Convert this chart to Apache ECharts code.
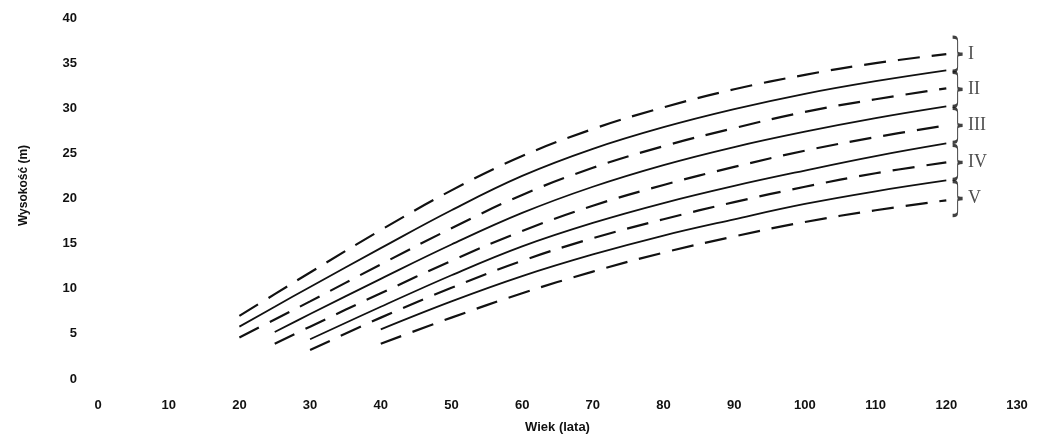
<!DOCTYPE html>
<html>
<head>
<meta charset="utf-8">
<title>Wysokość - wiek</title>
<script src="https://cdn.jsdelivr.net/npm/echarts@6/dist/echarts.min.js"></script>
<style>
    html, body { margin: 0; padding: 0; background: #fff; }
    #chart { width: 1038px; height: 441px; }
</style>
</head>
<body>
<div id="chart"></div>
<script>
// wiek (lata) - wspólne punkty dla wszystkich krzywych
var ages = [20, 25, 30, 40, 50, 60, 70, 80, 90, 100, 110, 120];
// wysokość (m), null = krzywa jeszcze się nie zaczęła
var line1 = [7.0, 9.4, 11.8, 16.5, 20.9, 24.7, 27.7, 30.1, 32.1, 33.7, 35.0, 36.0];
var line2 = [5.8, 8.0, 10.2, 14.5, 18.7, 22.5, 25.5, 27.9, 29.9, 31.6, 33.0, 34.2];
var line3 = [4.6, 6.6, 8.6, 12.7, 16.7, 20.4, 23.4, 25.8, 27.8, 29.6, 31.0, 32.2];
var line4 = [null, 5.2, 7.2, 11.1, 14.9, 18.4, 21.3, 23.7, 25.7, 27.4, 28.9, 30.2];
var line5 = [null, 3.9, 5.8, 9.5, 13.1, 16.4, 19.2, 21.5, 23.5, 25.3, 26.8, 28.1];
var line6 = [null, null, 4.4, 8.0, 11.5, 14.7, 17.3, 19.5, 21.4, 23.1, 24.7, 26.1];
var line7 = [null, null, 3.2, 6.8, 10.1, 13.1, 15.6, 17.7, 19.6, 21.3, 22.8, 24.0];
var line8 = [null, null, null, 5.5, 8.6, 11.4, 13.8, 15.9, 17.7, 19.4, 20.8, 22.0];
var line9 = [null, null, null, 3.9, 6.8, 9.5, 11.9, 14.0, 15.8, 17.4, 18.7, 19.8];
// klasy bonitacji (klamry po prawej)
var classNames = ["I", "II", "III", "IV", "V"];
var classCenters = [36.0, 32.1, 28.1, 24.0, 20.0];
var classAge = 121.6;

var chartPage = {
    init : function() {
        chartPage.funcs.render();
    }
    ,funcs : {
        toPairs : function(values) {
            var out = [];
            for (var i = 0; i < ages.length; i++) {
                if (values[i] !== null) out.push([ages[i], values[i]]);
            }
            return out;
        }
        ,curve : function(values, dashed) {
            return {
                type : 'line',
                data : chartPage.funcs.toPairs(values),
                smooth : 0.4,
                symbol : 'none',
                silent : true,
                lineStyle : {
                    color : '#111',
                    width : dashed ? 2.2 : 1.8,
                    type : dashed ? [22, 12] : 'solid'
                }
            };
        }
        ,render : function() {
            var myChart = echarts.init(document.getElementById('chart'));
            var labelFont = { color : '#111', fontWeight : 'bold', fontSize : 13, fontFamily : 'Liberation Sans, Arial, sans-serif' };
            var braceData = [];
            for (var i = 0; i < classNames.length; i++) {
                braceData.push({ value : [classAge, classCenters[i]], name : classNames[i] });
            }
            var option = {
                animation : false,
                grid : { left : 98, right : 21, top : 18, bottom : 62 },
                xAxis : {
                    type : 'value',
                    min : 0, max : 130, interval : 10,
                    name : 'Wiek (lata)',
                    nameLocation : 'middle',
                    nameGap : 42,
                    nameTextStyle : labelFont,
                    axisLine : { show : false },
                    axisTick : { show : false },
                    splitLine : { show : false },
                    axisLabel : Object.assign({ margin : 20 }, labelFont)
                },
                yAxis : {
                    type : 'value',
                    min : 0, max : 40, interval : 5,
                    name : 'Wysokość (m)',
                    nameLocation : 'middle',
                    nameGap : 68,
                    nameTextStyle : Object.assign({}, labelFont, { fontSize : 12, padding : [0, 0, 0, 26] }),
                    axisLine : { show : false },
                    axisTick : { show : false },
                    splitLine : { show : false },
                    axisLabel : Object.assign({ margin : 21 }, labelFont)
                },
                series : [
                    chartPage.funcs.curve(line1, true),
                    chartPage.funcs.curve(line2, false),
                    chartPage.funcs.curve(line3, true),
                    chartPage.funcs.curve(line4, false),
                    chartPage.funcs.curve(line5, true),
                    chartPage.funcs.curve(line6, false),
                    chartPage.funcs.curve(line7, true),
                    chartPage.funcs.curve(line8, false),
                    chartPage.funcs.curve(line9, true),
                    {
                        // klamry z numerami klas
                        type : 'scatter',
                        data : braceData,
                        silent : true,
                        symbol : 'path://M0,0 C4,0 5,3 5,12 L5,42 C5,48 6,50 10,50 C6,50 5,52 5,58 L5,88 C5,97 4,100 0,100',
                        symbolSize : [10, 34],
                        itemStyle : { color : 'none', borderColor : '#111', borderWidth : 1.8 },
                        label : {
                            show : true,
                            position : 'right',
                            distance : 4,
                            formatter : '{b}',
                            color : '#222',
                            fontSize : 18,
                            fontFamily : 'Liberation Serif, Times New Roman, serif'
                        }
                    }
                ]
            };
            myChart.setOption(option, true);
            window.onresize = function() {
                myChart.resize();
            }
        }
    }
}

chartPage.init();
</script>
</body>
</html>
